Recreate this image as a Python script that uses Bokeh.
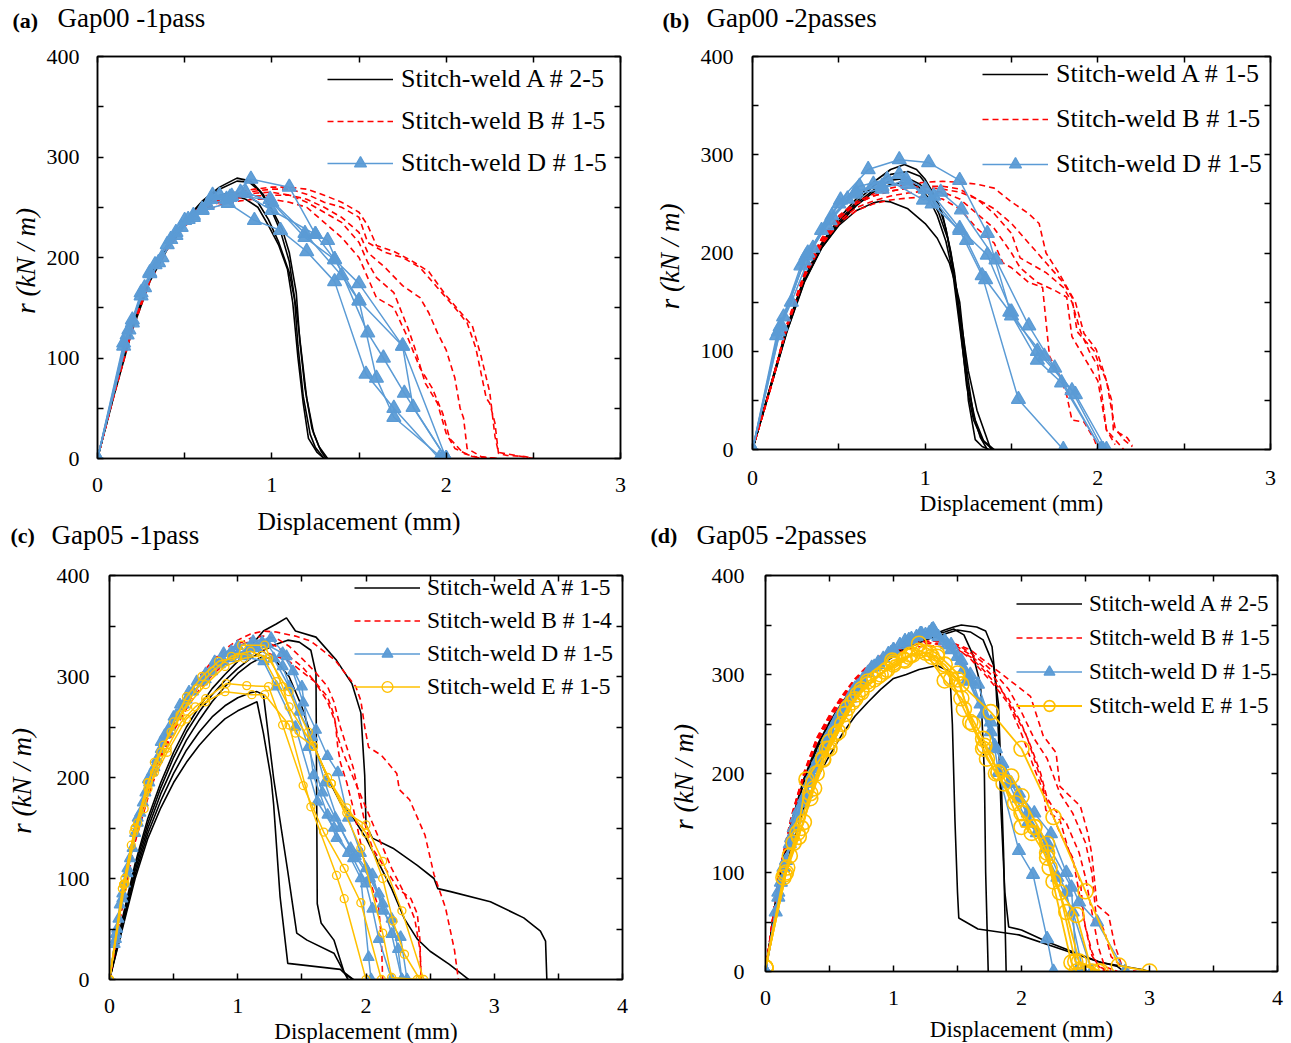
from bokeh.plotting import figure
from bokeh.models import (Range1d, LinearAxis, FixedTicker, Legend, Title,
                          LegendItem, ColumnDataSource)
from bokeh.layouts import row, column
from bokeh.embed import file_html
from bokeh.resources import INLINE

# ---------------- DATA ----------------
# Panel (a) Gap00 -1pass
A_a = [
    ([0, 0.1, 0.2, 0.3, 0.4, 0.5, 0.6, 0.7, 0.8, 0.88, 0.95, 1.0, 1.05, 1.1, 1.13, 1.15, 1.18, 1.22, 1.25, 1.3],
     [0, 72, 135, 182, 213, 237, 256, 270, 279, 276, 263, 246, 226, 196, 160, 112, 62, 24, 11, 0]),
    ([0, 0.1, 0.2, 0.3, 0.4, 0.5, 0.6, 0.7, 0.8, 0.87, 0.93, 1.0, 1.06, 1.1, 1.14, 1.16, 1.19, 1.23, 1.27, 1.32],
     [0, 70, 132, 180, 212, 236, 255, 268, 276, 275, 266, 248, 228, 205, 165, 118, 70, 30, 12, 0]),
    ([0, 0.1, 0.2, 0.3, 0.4, 0.5, 0.6, 0.7, 0.78, 0.85, 0.92, 0.98, 1.04, 1.1, 1.14, 1.17, 1.2, 1.24, 1.28, 1.31],
     [0, 68, 130, 178, 210, 234, 252, 262, 265, 262, 255, 238, 215, 185, 150, 105, 60, 25, 8, 0]),
    ([0, 0.1, 0.2, 0.3, 0.4, 0.5, 0.6, 0.7, 0.78, 0.85, 0.92, 0.98, 1.04, 1.09, 1.12, 1.15, 1.18, 1.21, 1.26, 1.3],
     [0, 66, 128, 176, 208, 232, 250, 260, 262, 258, 250, 232, 212, 188, 155, 100, 55, 20, 6, 0]),
]
B_a = [
    ([0, 0.1, 0.2, 0.3, 0.4, 0.5, 0.6, 0.7, 0.8, 0.9, 1.0, 1.1, 1.2, 1.3, 1.4, 1.5, 1.55, 1.65, 1.75, 1.85, 1.95, 2.05, 2.12, 2.17, 2.2, 2.23, 2.25, 2.28, 2.3, 2.35, 2.45, 2.5],
     [0, 68, 132, 180, 212, 236, 250, 258, 263, 266, 268, 268, 263, 255, 250, 240, 215, 205, 200, 190, 170, 150, 135, 110, 85, 60, 55, 35, 5, 3, 2, 0]),
    ([0, 0.1, 0.2, 0.3, 0.4, 0.5, 0.6, 0.7, 0.8, 0.9, 1.0, 1.1, 1.2, 1.3, 1.4, 1.5, 1.55, 1.65, 1.75, 1.85, 1.9, 1.95, 2.0, 2.05, 2.08, 2.1, 2.12, 2.2, 2.28],
     [0, 67, 130, 178, 210, 233, 247, 255, 259, 261, 262, 262, 258, 250, 240, 225, 205, 190, 172, 160, 145, 125, 108, 80, 50, 40, 10, 2, 0]),
    ([0, 0.1, 0.2, 0.3, 0.4, 0.5, 0.6, 0.7, 0.8, 0.9, 1.0, 1.1, 1.2, 1.3, 1.4, 1.5, 1.6, 1.7, 1.78, 1.85, 1.92, 1.98, 2.02, 2.1, 2.2],
     [0, 66, 128, 176, 208, 231, 245, 252, 256, 258, 258, 255, 250, 235, 220, 200, 160, 150, 120, 90, 70, 45, 20, 5, 0]),
    ([0, 0.1, 0.2, 0.3, 0.4, 0.5, 0.6, 0.7, 0.8, 0.9, 1.0, 1.1, 1.2, 1.3, 1.4, 1.5, 1.55, 1.6, 1.7, 1.78, 1.82, 1.88, 1.95, 2.0, 2.05, 2.15, 2.3],
     [0, 67, 131, 179, 211, 235, 249, 257, 261, 264, 265, 262, 255, 245, 235, 215, 195, 180, 165, 130, 110, 75, 55, 25, 10, 2, 0]),
    ([0, 0.1, 0.2, 0.3, 0.4, 0.5, 0.6, 0.7, 0.8, 0.9, 1.0, 1.1, 1.2, 1.3, 1.4, 1.5, 1.55, 1.6, 1.7, 1.8, 1.9, 2.0, 2.05, 2.1, 2.15, 2.2, 2.25, 2.28, 2.3, 2.4, 2.5],
     [0, 69, 133, 181, 213, 237, 252, 260, 265, 268, 270, 270, 268, 262, 255, 245, 232, 212, 206, 197, 186, 162, 152, 142, 132, 102, 66, 22, 6, 3, 0]),
]
D_a = [
    ([0, 0.15, 0.25, 0.33, 0.45, 0.55, 0.66, 0.76, 0.88, 1.1, 1.25, 1.36, 1.5, 1.75, 2.0],
     [0, 112, 165, 193, 225, 242, 262, 260, 278, 270, 223, 198, 174, 112, 0]),
    ([0, 0.15, 0.2, 0.3, 0.4, 0.5, 0.6, 0.75, 0.9, 1.05, 1.2, 1.36, 1.54, 1.7, 1.96],
     [0, 115, 135, 184, 213, 237, 247, 254, 237, 227, 206, 176, 84, 50, 0]),
    ([0, 0.17, 0.25, 0.35, 0.45, 0.55, 0.65, 0.77, 0.99, 1.19, 1.4, 1.5, 1.6, 1.7, 1.98],
     [0, 123, 162, 195, 222, 240, 258, 261, 258, 224, 182, 157, 80, 41, 0]),
    ([0, 0.18, 0.27, 0.37, 0.48, 0.6, 0.7, 0.82, 1.0, 1.25, 1.32, 1.55, 1.64, 1.76, 2.0],
     [0, 128, 170, 200, 230, 248, 262, 265, 247, 223, 217, 125, 100, 65, 0]),
    ([0, 0.2, 0.3, 0.42, 0.52, 0.63, 0.74, 0.85, 1.0, 1.19, 1.36, 1.5, 1.75, 1.81, 2.0],
     [0, 138, 185, 218, 238, 252, 258, 265, 255, 220, 198, 157, 112, 51, 0]),
]

# Panel (b) Gap00 -2passes
A_b = [
    ([0, 0.1, 0.2, 0.3, 0.4, 0.5, 0.6, 0.7, 0.75, 0.8, 0.9, 1.0, 1.07, 1.14, 1.18, 1.2, 1.23, 1.25, 1.29, 1.33, 1.37],
     [0, 60, 120, 170, 205, 228, 243, 251, 253, 252, 245, 230, 215, 190, 165, 150, 100, 50, 10, 3, 0]),
    ([0, 0.1, 0.2, 0.3, 0.4, 0.5, 0.6, 0.7, 0.8, 0.88, 0.95, 1.0, 1.05, 1.1, 1.15, 1.2, 1.25, 1.3, 1.35, 1.38],
     [0, 62, 125, 175, 210, 235, 255, 272, 285, 290, 285, 275, 260, 240, 200, 140, 80, 40, 15, 0]),
    ([0, 0.1, 0.2, 0.3, 0.4, 0.5, 0.6, 0.7, 0.8, 0.9, 0.97, 1.03, 1.08, 1.12, 1.17, 1.21, 1.25, 1.28, 1.32, 1.36],
     [0, 62, 124, 174, 208, 232, 252, 268, 280, 283, 278, 265, 248, 225, 180, 120, 70, 35, 12, 0]),
    ([0, 0.1, 0.2, 0.3, 0.4, 0.5, 0.6, 0.7, 0.8, 0.9, 0.97, 1.03, 1.08, 1.13, 1.17, 1.21, 1.24, 1.28, 1.33, 1.4],
     [0, 61, 122, 172, 206, 230, 250, 264, 274, 276, 270, 258, 240, 215, 175, 115, 65, 30, 10, 0]),
    ([0, 0.1, 0.2, 0.3, 0.4, 0.5, 0.6, 0.7, 0.8, 0.9, 0.96, 1.02, 1.07, 1.12, 1.16, 1.2, 1.24, 1.29, 1.34, 1.39],
     [0, 60, 121, 171, 205, 229, 248, 262, 270, 272, 268, 256, 238, 212, 180, 125, 70, 30, 8, 0]),
]
B_b = [
    ([0, 0.1, 0.2, 0.3, 0.4, 0.5, 0.6, 0.7, 0.8, 0.9, 1.0, 1.1, 1.2, 1.3, 1.4, 1.5, 1.6, 1.66, 1.7, 1.78, 1.87, 1.92, 1.99, 2.04, 2.08, 2.09, 2.13, 2.17, 2.2],
     [0, 60, 128, 180, 215, 238, 252, 260, 266, 270, 272, 273, 272, 270, 266, 252, 240, 230, 200, 178, 150, 118, 102, 76, 50, 20, 16, 12, 4]),
    ([0, 0.1, 0.2, 0.3, 0.4, 0.5, 0.6, 0.7, 0.8, 0.9, 1.0, 1.1, 1.2, 1.3, 1.4, 1.5, 1.55, 1.6, 1.7, 1.8, 1.85, 1.9, 1.95, 2.0, 2.02, 2.05, 2.1, 2.15],
     [0, 60, 126, 178, 212, 235, 250, 258, 263, 266, 268, 268, 265, 255, 240, 220, 195, 190, 180, 165, 150, 120, 100, 85, 60, 20, 10, 0]),
    ([0, 0.1, 0.2, 0.3, 0.4, 0.5, 0.6, 0.7, 0.8, 0.9, 1.0, 1.1, 1.2, 1.3, 1.4, 1.5, 1.55, 1.65, 1.75, 1.82, 1.85, 1.9, 1.95, 2.0, 2.02, 2.05, 2.1],
     [0, 59, 125, 176, 210, 232, 246, 253, 258, 261, 263, 262, 255, 240, 225, 200, 185, 170, 162, 155, 115, 100, 85, 70, 50, 20, 5]),
    ([0, 0.1, 0.2, 0.3, 0.4, 0.5, 0.6, 0.7, 0.8, 0.9, 1.0, 1.1, 1.2, 1.3, 1.4, 1.45, 1.5, 1.6, 1.68, 1.72, 1.78, 1.82, 1.85, 1.92, 1.98, 2.0],
     [0, 59, 124, 175, 208, 230, 243, 250, 254, 256, 257, 255, 245, 225, 210, 190, 185, 170, 165, 95, 75, 55, 30, 28, 10, 0]),
    ([0, 0.1, 0.2, 0.3, 0.4, 0.5, 0.6, 0.7, 0.8, 0.9, 1.0, 1.1, 1.2, 1.3, 1.4, 1.5, 1.6, 1.7, 1.75, 1.8, 1.85, 1.88, 1.93, 1.98, 2.0, 2.05, 2.08, 2.1, 2.15, 2.2],
     [0, 60, 127, 179, 213, 236, 250, 258, 263, 266, 267, 265, 262, 255, 245, 230, 210, 190, 180, 170, 155, 120, 110, 100, 90, 70, 40, 22, 10, 3]),
]
D_b = [
    ([0, 0.14, 0.28, 0.4, 0.51, 0.67, 0.85, 1.02, 1.2, 1.36, 1.5, 1.69, 1.87, 2.05],
     [0, 116, 187, 223, 254, 285, 295, 292, 274, 220, 136, 95, 56, 0]),
    ([0, 0.166, 0.31, 0.45, 0.59, 0.75, 0.89, 1.04, 1.2, 1.33, 1.54, 1.8],
     [0, 126, 197, 233, 260, 265, 275, 250, 223, 177, 51, 0]),
    ([0, 0.15, 0.225, 0.35, 0.5, 0.62, 0.78, 0.99, 1.09, 1.21, 1.41, 1.6, 1.75, 2.02],
     [0, 120, 150, 205, 250, 268, 275, 254, 262, 244, 193, 126, 83, 0]),
    ([0, 0.16, 0.3, 0.43, 0.55, 0.7, 0.85, 1.0, 1.24, 1.35, 1.49, 1.65, 1.79, 2.02],
     [0, 125, 192, 228, 255, 270, 280, 265, 213, 173, 140, 91, 68, 0]),
    ([0, 0.18, 0.32, 0.46, 0.6, 0.75, 0.9, 1.05, 1.2, 1.36, 1.5, 1.65, 1.85, 2.03],
     [0, 135, 200, 238, 262, 268, 270, 258, 225, 198, 140, 100, 60, 0]),
]

# Panel (c) Gap05 -1pass
A_c = [
    ([0, 0.1, 0.2, 0.3, 0.4, 0.5, 0.6, 0.7, 0.8, 0.9, 1.0, 1.1, 1.2, 1.3, 1.38, 1.45, 1.61, 1.77, 1.89, 1.96, 1.99, 2.0, 2.05, 2.21, 2.4, 2.53, 2.56, 2.66, 2.97, 3.23, 3.36, 3.4, 3.41, 3.5],
     [0, 60, 115, 160, 195, 225, 250, 270, 288, 302, 315, 330, 345, 352, 358, 345, 339, 316, 293, 264, 202, 153, 140, 130, 113, 100, 90, 87, 77, 61, 48, 38, 0, 0]),
    ([0, 0.1, 0.2, 0.3, 0.4, 0.5, 0.6, 0.7, 0.8, 0.9, 1.0, 1.1, 1.2, 1.3, 1.39, 1.48, 1.57, 1.61, 1.62, 1.65, 1.75, 1.83, 1.9],
     [0, 58, 112, 155, 190, 220, 245, 265, 282, 296, 308, 318, 326, 332, 336, 334, 326, 303, 75, 56, 39, 7, 0]),
    ([0, 0.1, 0.2, 0.3, 0.4, 0.5, 0.6, 0.7, 0.8, 0.9, 1.0, 1.1, 1.2, 1.3, 1.4, 1.5, 1.6, 1.7, 1.8, 1.9, 2.0, 2.1, 2.2, 2.3, 2.4, 2.5, 2.65, 2.75, 2.8],
     [0, 56, 108, 150, 184, 212, 237, 257, 275, 290, 303, 313, 320, 315, 300, 270, 230, 200, 175, 160, 140, 115, 90, 60, 40, 28, 15, 5, 0]),
    ([0, 0.1, 0.2, 0.3, 0.4, 0.5, 0.6, 0.7, 0.8, 0.9, 1.0, 1.1, 1.15, 1.2, 1.28, 1.39, 1.46, 1.54, 1.75, 1.83, 1.86],
     [0, 52, 104, 145, 177, 204, 227, 245, 260, 271, 279, 284, 285, 282, 199, 107, 46, 39, 26, 7, 0]),
    ([0, 0.1, 0.2, 0.3, 0.4, 0.5, 0.6, 0.7, 0.8, 0.9, 1.0, 1.1, 1.15, 1.2, 1.26, 1.28, 1.33, 1.39, 1.8, 1.85, 1.9],
     [0, 50, 100, 140, 170, 195, 215, 232, 246, 258, 266, 272, 275, 244, 199, 173, 82, 16, 10, 4, 0]),
]
B_c = [
    ([0, 0.1, 0.2, 0.3, 0.4, 0.5, 0.6, 0.7, 0.8, 0.9, 1.0, 1.1, 1.2, 1.3, 1.45, 1.57, 1.76, 1.92, 1.96, 1.99, 2.02, 2.12, 2.24, 2.26, 2.34, 2.46, 2.53, 2.62, 2.69, 2.72],
     [0, 75, 140, 185, 225, 255, 280, 300, 315, 327, 336, 342, 345, 344, 340, 335, 316, 290, 276, 250, 230, 222, 204, 188, 178, 143, 104, 71, 29, 0]),
    ([0, 0.1, 0.2, 0.3, 0.4, 0.5, 0.6, 0.7, 0.8, 0.9, 1.0, 1.1, 1.2, 1.3, 1.4, 1.5, 1.6, 1.7, 1.75, 1.8, 1.85, 1.9, 1.95, 2.0, 2.05, 2.15, 2.25, 2.35, 2.4, 2.42, 2.43],
     [0, 74, 138, 183, 222, 252, 276, 296, 311, 323, 332, 338, 340, 338, 330, 318, 305, 290, 275, 250, 230, 210, 180, 150, 130, 110, 90, 80, 65, 40, 0]),
    ([0, 0.1, 0.2, 0.3, 0.4, 0.5, 0.6, 0.7, 0.8, 0.9, 1.0, 1.1, 1.2, 1.3, 1.4, 1.5, 1.6, 1.7, 1.76, 1.78, 1.8, 1.85, 1.9, 1.95, 2.0, 2.05, 2.1, 2.12, 2.13],
     [0, 73, 136, 180, 218, 246, 268, 287, 301, 313, 322, 325, 325, 320, 315, 305, 295, 275, 255, 230, 215, 195, 170, 140, 110, 90, 70, 40, 0]),
    ([0, 0.1, 0.2, 0.3, 0.4, 0.5, 0.6, 0.7, 0.8, 0.9, 1.0, 1.1, 1.2, 1.3, 1.4, 1.5, 1.6, 1.7, 1.75, 1.78, 1.82, 1.9, 2.0, 2.1, 2.2, 2.3, 2.38, 2.42, 2.43],
     [0, 74, 137, 182, 220, 249, 272, 291, 306, 319, 330, 335, 335, 330, 320, 310, 295, 280, 262, 240, 225, 200, 170, 140, 110, 85, 60, 30, 0]),
]
D_c = [
    ([0, 0.05, 0.1, 0.16, 0.24, 0.33, 0.43, 0.55, 0.68, 0.82, 0.95, 1.07, 1.19, 1.35, 1.43, 1.51, 1.61, 1.7, 1.78, 1.86, 1.96, 2.05, 2.13, 2.27, 2.32],
     [0, 40, 80, 120, 165, 205, 242, 272, 295, 315, 325, 323, 334, 323, 305, 274, 247, 221, 205, 160, 125, 104, 68, 42, 0]),
    ([0, 0.04, 0.08, 0.14, 0.22, 0.3, 0.4, 0.5, 0.62, 0.75, 0.89, 1.0, 1.12, 1.26, 1.38, 1.5, 1.59, 1.7, 1.77, 1.9, 2.0, 2.05, 2.1, 2.2],
     [0, 35, 74, 110, 160, 198, 235, 260, 285, 303, 323, 330, 335, 338, 320, 290, 202, 163, 140, 120, 95, 70, 40, 0]),
    ([0, 0.06, 0.12, 0.2, 0.28, 0.37, 0.47, 0.6, 0.75, 0.89, 1.05, 1.2, 1.3, 1.45, 1.62, 1.75, 1.86, 1.96, 2.02, 2.04],
     [0, 50, 95, 145, 185, 218, 250, 277, 297, 315, 320, 315, 290, 250, 176, 150, 125, 100, 22, 0]),
    ([0, 0.05, 0.1, 0.18, 0.26, 0.35, 0.46, 0.58, 0.72, 0.86, 1.0, 1.15, 1.28, 1.4, 1.55, 1.66, 1.76, 1.88, 2.0, 2.1, 2.2, 2.25, 2.28],
     [0, 45, 85, 130, 175, 210, 245, 272, 295, 312, 322, 328, 318, 290, 230, 185, 160, 130, 110, 85, 60, 30, 0]),
    ([0, 0.07, 0.14, 0.22, 0.31, 0.4, 0.52, 0.65, 0.8, 0.95, 1.1, 1.23, 1.35, 1.48, 1.58, 1.68, 1.8, 1.92, 2.03, 2.13, 2.2, 2.28],
     [0, 60, 105, 155, 195, 228, 262, 285, 305, 318, 330, 332, 310, 265, 240, 195, 150, 122, 100, 75, 45, 0]),
]
E_c = [
    ([0, 0.11, 0.19, 0.27, 0.35, 0.45, 0.56, 0.67, 0.75, 0.91, 1.07, 1.24, 1.35, 1.51, 1.67, 1.83, 1.96, 2.12],
     [0, 94, 146, 169, 205, 229, 255, 270, 278, 293, 291, 290, 252, 192, 146, 110, 76, 0]),
    ([0, 0.1, 0.17, 0.3, 0.45, 0.6, 0.75, 0.9, 1.11, 1.21, 1.4, 1.57, 1.77, 1.83, 2.0],
     [0, 90, 133, 189, 225, 258, 275, 285, 282, 282, 252, 171, 103, 80, 0]),
    ([0, 0.12, 0.2, 0.3, 0.4, 0.5, 0.6, 0.72, 0.85, 1.0, 1.03, 1.21, 1.35, 1.45, 1.59, 1.73, 1.85, 2.0, 2.13, 2.28, 2.45],
     [0, 100, 150, 195, 225, 255, 280, 300, 315, 319, 331, 331, 290, 244, 231, 194, 165, 153, 117, 68, 0]),
    ([0, 0.12, 0.22, 0.35, 0.48, 0.6, 0.75, 0.9, 1.05, 1.19, 1.3, 1.4, 1.59, 1.73, 1.96, 2.13, 2.2, 2.4],
     [0, 95, 155, 215, 245, 270, 292, 310, 318, 321, 295, 270, 231, 194, 130, 46, 2, 0]),
    ([0, 0.11, 0.2, 0.3, 0.42, 0.55, 0.68, 0.8, 0.95, 1.1, 1.24, 1.4, 1.55, 1.7, 1.85, 2.0, 2.13, 2.21, 2.3, 2.42],
     [0, 94, 150, 195, 232, 262, 288, 305, 320, 325, 318, 285, 245, 200, 170, 145, 100, 58, 25, 0]),
]

# Panel (d) Gap05 -2passes
A_d = [
    ([0, 0.1, 0.2, 0.3, 0.4, 0.5, 0.6, 0.7, 0.8, 0.9, 1.0, 1.1, 1.2, 1.34, 1.44, 1.46, 1.48, 1.5, 1.51, 1.66, 1.98, 2.3, 2.62, 2.94, 3.0],
     [0, 70, 125, 165, 195, 218, 240, 258, 272, 285, 296, 300, 305, 309, 303, 250, 153, 80, 54, 43, 37, 23, 9, 2, 0]),
    ([0, 0.1, 0.2, 0.3, 0.4, 0.5, 0.6, 0.7, 0.8, 0.9, 1.0, 1.1, 1.2, 1.3, 1.4, 1.47, 1.55, 1.62, 1.68, 1.71, 1.72, 1.74],
     [0, 90, 150, 195, 228, 252, 272, 290, 305, 315, 322, 330, 335, 340, 343, 346, 340, 320, 290, 200, 100, 0]),
    ([0, 0.1, 0.2, 0.3, 0.4, 0.5, 0.6, 0.7, 0.8, 0.9, 1.0, 1.1, 1.2, 1.3, 1.4, 1.47, 1.53, 1.65, 1.72, 1.77, 1.8, 1.82, 1.84, 1.87, 1.9, 2.0, 2.2, 2.4, 2.6, 2.75, 2.8],
     [0, 88, 148, 193, 226, 250, 270, 288, 302, 312, 320, 328, 334, 340, 345, 348, 350, 348, 344, 328, 290, 240, 163, 80, 45, 42, 30, 20, 10, 5, 0]),
    ([0, 0.1, 0.2, 0.3, 0.4, 0.5, 0.6, 0.7, 0.8, 0.9, 1.0, 1.1, 1.2, 1.3, 1.4, 1.5, 1.6, 1.7, 1.78, 1.82, 1.84, 1.86, 1.87, 1.88],
     [0, 87, 146, 191, 224, 248, 268, 286, 300, 310, 318, 326, 332, 337, 341, 345, 343, 335, 310, 270, 200, 120, 60, 0]),
]
B_d = [
    ([0, 0.1, 0.2, 0.3, 0.4, 0.5, 0.6, 0.7, 0.8, 0.9, 1.0, 1.1, 1.2, 1.3, 1.4, 1.5, 1.6, 1.7, 1.8, 1.9, 2.0, 2.07, 2.17, 2.27, 2.3, 2.46, 2.52, 2.55, 2.59, 2.68, 2.73, 2.8],
     [0, 95, 155, 200, 235, 258, 278, 295, 308, 318, 325, 330, 332, 334, 333, 330, 325, 315, 305, 295, 285, 278, 238, 221, 187, 167, 139, 118, 67, 57, 26, 0]),
    ([0, 0.1, 0.2, 0.3, 0.4, 0.5, 0.6, 0.7, 0.8, 0.9, 1.0, 1.1, 1.2, 1.3, 1.4, 1.5, 1.6, 1.7, 1.8, 1.91, 2.04, 2.17, 2.19, 2.3, 2.36, 2.46, 2.49, 2.55, 2.62, 2.7],
     [0, 94, 153, 198, 233, 256, 276, 293, 306, 316, 323, 328, 331, 332, 331, 328, 320, 308, 295, 269, 238, 187, 163, 153, 126, 91, 50, 16, 2, 0]),
    ([0, 0.1, 0.2, 0.3, 0.4, 0.5, 0.6, 0.7, 0.8, 0.9, 1.0, 1.1, 1.2, 1.3, 1.4, 1.5, 1.6, 1.7, 1.8, 1.9, 2.0, 2.08, 2.15, 2.2, 2.25, 2.35, 2.45, 2.5, 2.55, 2.6, 2.65, 2.75],
     [0, 93, 152, 197, 231, 254, 274, 290, 303, 313, 320, 325, 328, 329, 328, 325, 318, 305, 290, 275, 250, 225, 200, 175, 165, 150, 120, 95, 60, 25, 5, 0]),
    ([0, 0.1, 0.2, 0.3, 0.4, 0.5, 0.6, 0.7, 0.8, 0.9, 1.0, 1.1, 1.2, 1.3, 1.4, 1.5, 1.6, 1.7, 1.8, 1.9, 2.0, 2.1, 2.2, 2.3, 2.4, 2.5, 2.55, 2.58, 2.65, 2.7, 2.8, 2.9],
     [0, 95, 156, 201, 236, 259, 279, 296, 309, 319, 326, 331, 333, 334, 333, 330, 322, 312, 300, 285, 262, 235, 215, 180, 160, 130, 100, 60, 40, 15, 3, 0]),
    ([0, 0.1, 0.2, 0.3, 0.4, 0.5, 0.6, 0.7, 0.8, 0.9, 1.0, 1.1, 1.2, 1.3, 1.4, 1.5, 1.6, 1.7, 1.8, 1.9, 2.0, 2.1, 2.2, 2.3, 2.4, 2.45, 2.5, 2.55, 2.6, 2.7],
     [0, 94, 154, 199, 234, 257, 277, 294, 307, 317, 324, 329, 331, 331, 330, 326, 316, 302, 287, 270, 240, 205, 172, 140, 115, 80, 45, 20, 5, 0]),
]
D_d = [
    ([0, 0.08, 0.16, 0.26, 0.36, 0.46, 0.56, 0.66, 0.76, 0.88, 1.0, 1.12, 1.22, 1.31, 1.4, 1.53, 1.66, 1.76, 1.82, 1.98, 2.09, 2.2, 2.25],
     [0, 60, 112, 163, 198, 228, 255, 276, 295, 312, 325, 335, 341, 346, 334, 314, 290, 252, 201, 122, 98, 33, 0]),
    ([0, 0.1, 0.19, 0.32, 0.41, 0.51, 0.61, 0.7, 0.83, 0.96, 1.09, 1.21, 1.32, 1.45, 1.6, 1.76, 1.9, 2.05, 2.2, 2.39, 2.43],
     [0, 75, 129, 180, 214, 242, 266, 286, 307, 321, 334, 341, 343, 330, 293, 242, 190, 150, 130, 85, 0]),
    ([0, 0.12, 0.22, 0.3, 0.4, 0.5, 0.6, 0.72, 0.85, 0.98, 1.1, 1.25, 1.35, 1.5, 1.6, 1.79, 1.98, 2.1, 2.23, 2.35, 2.45, 2.59, 2.81],
     [0, 90, 145, 175, 210, 240, 263, 288, 308, 322, 332, 340, 338, 318, 300, 228, 180, 160, 139, 100, 70, 50, 0]),
    ([0, 0.14, 0.24, 0.34, 0.44, 0.54, 0.64, 0.75, 0.88, 1.0, 1.14, 1.28, 1.42, 1.55, 1.68, 1.8, 1.92, 2.05, 2.2, 2.35, 2.48],
     [0, 105, 155, 190, 222, 250, 272, 292, 310, 325, 336, 342, 330, 305, 270, 225, 190, 160, 125, 80, 0]),
    ([0, 0.1, 0.2, 0.29, 0.38, 0.48, 0.58, 0.68, 0.8, 0.92, 1.05, 1.18, 1.3, 1.45, 1.58, 1.7, 1.85, 1.98, 2.12, 2.28, 2.4, 2.55],
     [0, 80, 135, 170, 205, 235, 260, 282, 302, 316, 330, 338, 345, 325, 295, 260, 210, 175, 140, 95, 60, 0]),
]
E_d = [
    ([0, 0.16, 0.26, 0.35, 0.45, 0.57, 0.7, 0.8, 0.93, 1.09, 1.2, 1.34, 1.5, 1.6, 1.71, 1.82, 2.0, 2.1, 2.22, 2.39, 2.43],
     [4, 100, 136, 175, 214, 242, 275, 293, 303, 314, 331, 321, 301, 252, 228, 201, 146, 146, 105, 9, 0]),
    ([0, 0.19, 0.3, 0.4, 0.5, 0.64, 0.75, 0.9, 0.99, 1.12, 1.25, 1.4, 1.53, 1.7, 1.82, 1.92, 2.0, 2.2, 2.25, 2.43, 2.55],
     [4, 117, 151, 200, 232, 266, 285, 300, 314, 318, 322, 294, 276, 235, 201, 197, 177, 129, 91, 57, 0]),
    ([0, 0.15, 0.25, 0.32, 0.48, 0.62, 0.75, 0.88, 1.0, 1.15, 1.3, 1.53, 1.76, 2.0, 2.25, 2.5, 2.76, 3.0],
     [4, 98, 140, 194, 225, 260, 282, 298, 310, 320, 318, 290, 262, 225, 156, 81, 6, 0]),
    ([0, 0.17, 0.28, 0.38, 0.5, 0.6, 0.72, 0.85, 1.0, 1.13, 1.28, 1.4, 1.5, 1.62, 1.73, 1.86, 2.0, 2.1, 2.2, 2.3, 2.42, 2.6],
     [4, 105, 145, 185, 225, 250, 280, 295, 312, 320, 322, 310, 295, 250, 215, 190, 160, 146, 120, 80, 10, 0]),
    ([0, 0.14, 0.22, 0.35, 0.45, 0.55, 0.68, 0.8, 0.95, 1.08, 1.2, 1.34, 1.45, 1.55, 1.7, 1.8, 1.95, 2.08, 2.2, 2.35, 2.45, 2.62],
     [4, 95, 130, 180, 215, 240, 272, 290, 305, 315, 324, 318, 295, 265, 225, 200, 170, 140, 115, 60, 10, 0]),
]

Y_TICKS = [0, 100, 200, 300, 400]
Y_MINOR = [50, 150, 250, 350]
Y_ALL = [0, 50, 100, 150, 200, 250, 300, 350, 400]
X_TICKS_3 = [0, 1, 2, 3]
X_MINOR_3 = [0.5, 1.5, 2.5]
X_ALL_3 = [0, 0.5, 1, 1.5, 2, 2.5, 3]
X_TICKS_4 = [0, 1, 2, 3, 4]
X_MINOR_4 = [0.5, 1.5, 2.5, 3.5]
X_ALL_4 = [0, 0.5, 1, 1.5, 2, 2.5, 3, 3.5, 4]

# ---------------- STYLE ----------------
FONT = "Liberation Serif"
BLACK = "#000000"
RED = "#FF0000"
BLUE = "#5B9BD5"
GOLD = "#FFC000"


def style_axis(ax, ticks, minor, size="22px", standoff=16):
    ax.ticker = FixedTicker(ticks=ticks, minor_ticks=minor)
    ax.major_tick_in = 6
    ax.major_tick_out = 0
    ax.minor_tick_in = 6
    ax.minor_tick_out = 0
    ax.axis_line_width = 1.5
    ax.major_tick_line_width = 1.5
    ax.minor_tick_line_width = 1.5
    ax.axis_line_color = "black"
    ax.major_tick_line_color = "black"
    ax.minor_tick_line_color = "black"
    ax.major_label_text_font = FONT
    ax.major_label_text_font_size = size
    ax.major_label_text_color = "black"
    ax.major_label_standoff = standoff


def draw(p, curves, color, dash="solid", marker=None, msize=10, width=1.6,
         filled=True, mline=1.3):
    first = None
    for xs, ys in curves:
        src = ColumnDataSource(dict(x=xs, y=ys))
        rs = [p.line("x", "y", source=src, line_color=color, line_width=width,
                     line_dash=dash)]
        if marker:
            rs.append(p.scatter("x", "y", source=src, marker=marker, size=msize,
                                line_color=color, line_width=mline,
                                fill_color=color if filled else None,
                                fill_alpha=0.95))
        if first is None:
            first = rs
    return first


def panel(c):
    p = figure(frame_width=c["fw"], frame_height=c["fh"],
               x_range=Range1d(0, c["xmax"]), y_range=Range1d(0, 400),
               output_backend="svg", toolbar_location=None,
               title_location=None,
               min_border_left=c["bl"], min_border_right=c["br"],
               min_border_top=c["bt"], min_border_bottom=c["bb"])
    p.grid.visible = False
    p.outline_line_color = "black"
    p.outline_line_width = 1.5
    p.outline_line_alpha = 1
    p.background_fill_color = "white"
    if c.get("transparent"):
        p.border_fill_alpha = 0

    if c["xmax"] == 3:
        xt, xm, xa = X_TICKS_3, X_MINOR_3, X_ALL_3
    else:
        xt, xm, xa = X_TICKS_4, X_MINOR_4, X_ALL_4
    style_axis(p.xaxis[0], xt, xm, "22px", c["xts"])
    style_axis(p.yaxis[0], Y_TICKS, Y_MINOR, "22px", c["yts"])
    p.xaxis.axis_label = "Displacement (mm)"
    p.xaxis.axis_label_text_font = FONT
    p.xaxis.axis_label_text_font_style = "normal"
    p.xaxis.axis_label_text_font_size = c["xlfs"]
    p.xaxis.axis_label_standoff = c["xls"]
    p.xaxis.axis_label_text_color = "black"
    p.yaxis.axis_label = "r  (kN / m)"
    p.yaxis.axis_label_text_font = FONT
    p.yaxis.axis_label_text_font_style = "italic"
    p.yaxis.axis_label_text_font_size = "27px"
    p.yaxis.axis_label_standoff = c["yls"]
    p.yaxis.axis_label_text_color = "black"

    # mirrored tick-only axes on top and right (ticks only, no labels)
    top = LinearAxis()
    style_axis(top, [], xa, "22px", 0)
    p.add_layout(top, "above")
    right = LinearAxis()
    style_axis(right, [], Y_ALL, "22px", 0)
    p.add_layout(right, "right")

    # panel captions: tag (bold) and name, placed on one line above the frame
    p.add_layout(Title(text=c["tag"], align="left", offset=c["tag_off"],
                       vertical_align="top", standoff=c["tag_sd"],
                       text_font=FONT, text_font_style="bold",
                       text_font_size="22px", text_color="black"), "above")
    p.add_layout(Title(text=c["title"], align="left", offset=c["title_off"],
                       vertical_align="top", standoff=c["title_sd"],
                       text_font=FONT, text_font_style="normal",
                       text_font_size="27px", text_color="black"), "above")

    items = []
    for s in c["series"]:
        rs = draw(p, s["data"], s["color"], s.get("dash", "solid"),
                  s.get("marker"), s.get("msize", 10), s.get("width", 1.6),
                  s.get("filled", True), s.get("mline", 1.3))
        items.append(LegendItem(label=s["label"], renderers=rs))

    leg = Legend(items=items, location=c["legloc"],
                 label_text_font=FONT, label_text_font_size=c["legfs"],
                 label_text_color="black",
                 glyph_width=66, glyph_height=c["legh"], label_height=c["legh"],
                 label_standoff=c["legsd"], spacing=c["legsp"],
                 padding=0, margin=0, border_line_color=None,
                 background_fill_alpha=0)
    p.add_layout(leg)
    return p


pa = panel(dict(
    fw=523, fh=402, bl=97, br=25, bt=56, bb=78, xmax=3,
    xts=19, yts=18, xlfs="25.5px", xls=12, yls=3,
    legloc=(230, 280), legfs="26px", legh=30, legsp=12, legsd=8,
    tag="(a)", title="Gap00 -1pass", tag_off=-85, title_off=-40,
    tag_sd=-98, title_sd=-108,
    series=[
        dict(data=A_a, color=BLACK, label="Stitch-weld A # 2-5"),
        dict(data=B_a, color=RED, dash="6 4", label="Stitch-weld B # 1-5"),
        dict(data=D_a, color=BLUE, marker="triangle", msize=14, width=1.5,
             label="Stitch-weld D # 1-5"),
    ]))

pb = panel(dict(
    fw=518, fh=393, bl=107, br=15, bt=56, bb=87, xmax=3,
    xts=21, yts=19, xlfs="23px", xls=3, yls=13,
    legloc=(230, 270), legfs="26px", legh=30, legsp=15, legsd=8,
    tag="(b)", title="Gap00 -2passes", tag_off=-90, title_off=-46,
    tag_sd=-98, title_sd=-108,
    series=[
        dict(data=A_b, color=BLACK, label="Stitch-weld A # 1-5"),
        dict(data=B_b, color=RED, dash="6 4", label="Stitch-weld B # 1-5"),
        dict(data=D_b, color=BLUE, marker="triangle", msize=14, width=1.5,
             label="Stitch-weld D # 1-5"),
    ]))

pc = panel(dict(
    fw=513, fh=404, bl=109, br=23, bt=55, bb=65, xmax=4, transparent=True,
    xts=19, yts=20, xlfs="23px", xls=3, yls=17,
    legloc=(245, 279), legfs="23.5px", legh=27, legsp=6, legsd=7,
    tag="(c)", title="Gap05 -1pass", tag_off=-99, title_off=-58,
    tag_sd=-106, title_sd=-112,
    series=[
        dict(data=A_c, color=BLACK, label="Stitch-weld A # 1-5"),
        dict(data=B_c, color=RED, dash="6 4", label="Stitch-weld B # 1-4"),
        dict(data=D_c, color=BLUE, marker="triangle", msize=11, width=1.5,
             label="Stitch-weld D # 1-5"),
        dict(data=E_c, color=GOLD, marker="circle", msize=8, width=1.5,
             filled=False, mline=1.3, label="Stitch-weld E # 1-5"),
    ]))

pd_ = panel(dict(
    fw=512, fh=396, bl=120, br=8, bt=55, bb=73, xmax=4, transparent=True,
    xts=19, yts=21, xlfs="23px", xls=9, yls=10,
    legloc=(251, 252), legfs="23px", legh=27, legsp=7, legsd=7,
    tag="(d)", title="Gap05 -2passes", tag_off=-115, title_off=-69,
    tag_sd=-106, title_sd=-112,
    series=[
        dict(data=A_d, color=BLACK, label="Stitch-weld A # 2-5"),
        dict(data=B_d, color=RED, dash="6 4", label="Stitch-weld B # 1-5"),
        dict(data=D_d, color=BLUE, marker="triangle", msize=13, width=1.5,
             label="Stitch-weld D # 1-5"),
        dict(data=E_d, color=GOLD, marker="circle", msize=15, width=1.8,
             filled=False, mline=1.6, label="Stitch-weld E # 1-5"),
    ]))

top_row = row(pa, pb)
bottom_row = row(pc, pd_)
bottom_row.margin = (-18, 0, 0, 0)
layout = column(top_row, bottom_row)

open("out.html", "w").write(file_html(layout, INLINE))
